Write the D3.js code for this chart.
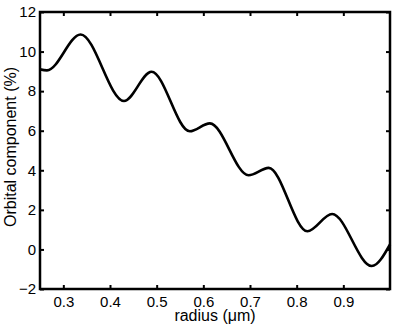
<!DOCTYPE html>
<html><head><meta charset="utf-8">
<script src="https://cdn.jsdelivr.net/npm/d3@7"></script>
<style>body{margin:0;background:#fff}svg{display:block}text{font-family:"Liberation Sans",Arial,sans-serif;fill:#000}</style>
</head><body>
<script>
// local extrema (and end points) of the curve
const radius  = [0.25, 0.265, 0.337, 0.430, 0.489, 0.571, 0.614, 0.697, 0.740, 0.823, 0.876, 0.961, 1.0];
const orbital = [9.10, 9.05, 10.86, 7.50, 8.98, 5.97, 6.37, 3.75, 4.12, 0.92, 1.79, -0.84, 0.25];
const xTicks = [0.3,0.4,0.5,0.6,0.7,0.8,0.9];
const yTicks = [-2,0,2,4,6,8,10,12];
const xLabel = "radius (\u03bcm)";
const yLabel = "Orbital component (%)";

const W=395,H=327;
const m={l:40,r:5,t:12,b:38};
const FS=15, TS=16;
const svg=d3.select("body").append("svg").attr("width",W).attr("height",H);
const x=d3.scaleLinear().domain([0.25,1.0]).range([m.l,W-m.r]);
const y=d3.scaleLinear().domain([-2,12]).range([H-m.b,m.t]);
const fmt=v=>v<0?"\u2212"+Math.abs(v):String(v);

const tl=4;
const g=svg.append("g");
const xb=g.append("g").attr("transform",`translate(0,${y(-2)})`).call(d3.axisBottom(x).tickValues(xTicks).tickSize(-tl).tickPadding(7).tickFormat(d3.format(".1f")));
const xt=g.append("g").attr("transform",`translate(0,${y(12)})`).call(d3.axisTop(x).tickValues(xTicks).tickSize(-tl).tickFormat(""));
const yl=g.append("g").attr("transform",`translate(${x(0.25)},0)`).call(d3.axisLeft(y).tickValues(yTicks).tickSize(-tl).tickPadding(4).tickFormat(fmt));
const yr=g.append("g").attr("transform",`translate(${x(1.0)},0)`).call(d3.axisRight(y).tickValues(yTicks).tickSize(-tl).tickFormat(""));
[xb,xt,yl,yr].forEach(a=>{a.select(".domain").remove();a.selectAll("line").attr("stroke","#000").attr("stroke-width",2);a.selectAll("text").attr("font-size",FS).attr("font-family","Liberation Sans, Arial, sans-serif");});
xb.selectAll("text").attr("dy","0.71em");

const line=d3.line().x((d,i)=>x(radius[i])).y((d,i)=>y(orbital[i])).curve(d3.curveMonotoneX);
svg.append("path").datum(orbital).attr("d",line).attr("fill","none").attr("stroke","#000").attr("stroke-width",2.6).attr("stroke-linejoin","round");

svg.append("rect").attr("x",x(0.25)).attr("y",y(12)).attr("width",x(1)-x(0.25)).attr("height",y(-2)-y(12)).attr("fill","none").attr("stroke","#000").attr("stroke-width",2.5);

svg.append("text").attr("x",(x(0.25)+x(1))/2).attr("y",321).attr("text-anchor","middle").attr("font-size",TS).text(xLabel);
svg.append("text").attr("transform",`translate(16,147) rotate(-90)`).attr("text-anchor","middle").attr("font-size",TS).text(yLabel);
</script>
</body></html>
